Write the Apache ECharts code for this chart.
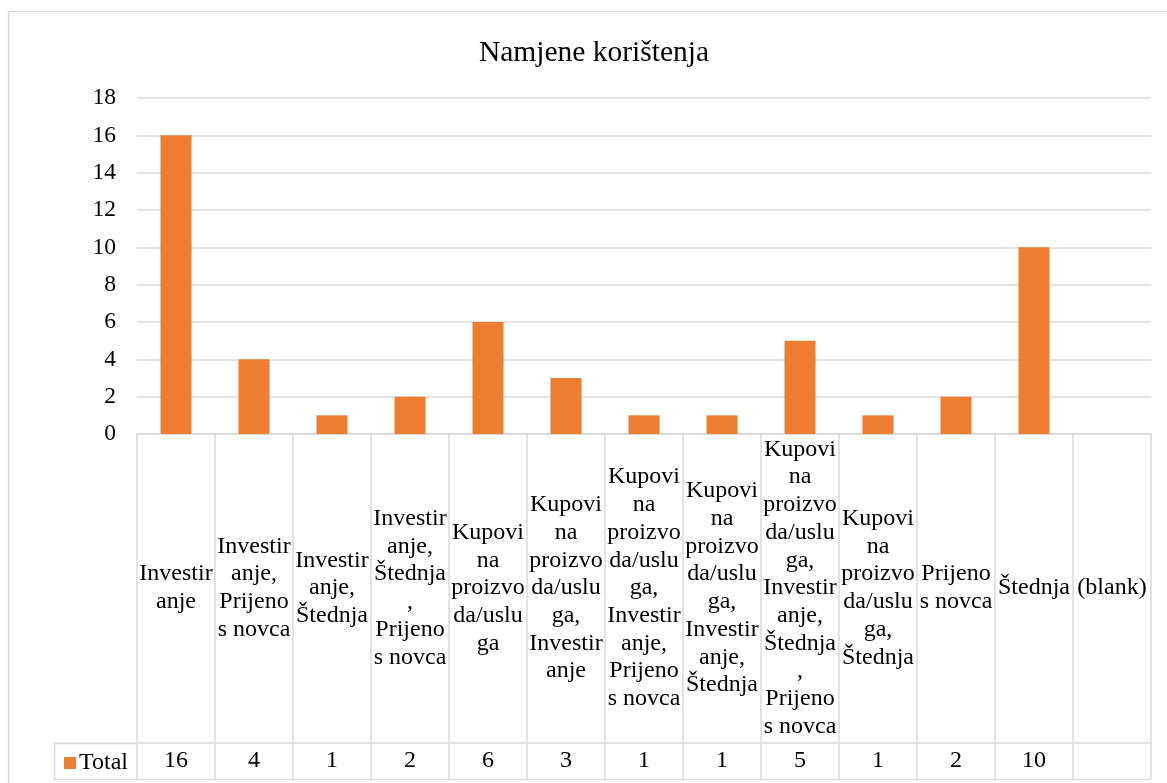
<!DOCTYPE html>
<html lang="hr">
<head>
    <meta charset="UTF-8">
    <title>Namjene korištenja</title>
    <script src="https://cdn.jsdelivr.net/npm/echarts@6/dist/echarts.min.js"></script>
    <style>
        html, body { margin: 0; padding: 0; background: #fff; }
        #chart { width: 1167px; height: 783px; }
    </style>
</head>
<body>
<div id="chart"></div>

<script>
    // podaci iz pivot tablice
    var categories = [
        'Investiranje',
        'Investiranje, Prijenos novca',
        'Investiranje, Štednja',
        'Investiranje, Štednja, Prijenos novca',
        'Kupovina proizvoda/usluga',
        'Kupovina proizvoda/usluga, Investiranje',
        'Kupovina proizvoda/usluga, Investiranje, Prijenos novca',
        'Kupovina proizvoda/usluga, Investiranje, Štednja',
        'Kupovina proizvoda/usluga, Investiranje, Štednja, Prijenos novca',
        'Kupovina proizvoda/usluga, Štednja',
        'Prijenos novca',
        'Štednja',
        '(blank)'
    ];
    // kako Excel prelama tekst u ćelijama
    var categoryLabels = [
        'Investir\nanje',
        'Investir\nanje,\nPrijeno\ns novca',
        'Investir\nanje,\nŠtednja',
        'Investir\nanje,\nŠtednja\n,\nPrijeno\ns novca',
        'Kupovi\nna\nproizvo\nda/uslu\nga',
        'Kupovi\nna\nproizvo\nda/uslu\nga,\nInvestir\nanje',
        'Kupovi\nna\nproizvo\nda/uslu\nga,\nInvestir\nanje,\nPrijeno\ns novca',
        'Kupovi\nna\nproizvo\nda/uslu\nga,\nInvestir\nanje,\nŠtednja',
        'Kupovi\nna\nproizvo\nda/uslu\nga,\nInvestir\nanje,\nŠtednja\n,\nPrijeno\ns novca',
        'Kupovi\nna\nproizvo\nda/uslu\nga,\nŠtednja',
        'Prijeno\ns novca',
        'Štednja',
        '(blank)'
    ];
    var totals = [16, 4, 1, 2, 6, 3, 1, 1, 5, 1, 2, 10, null];
    var yTicks = {min: 0, max: 18, interval: 2};

    var font = '"Liberation Serif", "Times New Roman", serif';
    var gridColor = '#d9d9d9';

    var myChart = echarts.init(document.getElementById('chart'));
    var option = {
        backgroundColor: '#fff',
        animation: false,
        title: {
            text: 'Namjene korištenja',
            left: 589,
            top: 33,
            textAlign: 'center',
            textStyle: {fontFamily: font, fontSize: 29.5, fontWeight: 'normal', color: '#000'}
        },
        legend: {
            left: 59,
            top: 746,
            icon: 'rect',
            itemWidth: 12,
            itemHeight: 12,
            itemGap: 4,
            data: ['Total'],
            textStyle: {fontFamily: font, fontSize: 24, color: '#000', padding: [0, 0, 0, -2]}
        },
        grid: {left: 137, right: 16, top: 98, bottom: 349},
        xAxis: [
            {
                type: 'category',
                data: categories,
                axisLine: {lineStyle: {color: gridColor, width: 1.5}},
                axisTick: {show: true, interval: 0, length: 345, lineStyle: {color: gridColor, width: 1.5}},
                axisLabel: {
                    interval: 0,
                    margin: 154,
                    verticalAlign: 'middle',
                    lineHeight: 27.7,
                    fontFamily: font,
                    fontSize: 24,
                    color: '#000',
                    formatter: function (v, i) { return categoryLabels[i]; }
                }
            },
            {
                type: 'category',
                position: 'bottom',
                offset: 309,
                data: categories,
                axisLine: {show: true, lineStyle: {color: gridColor, width: 1.5}},
                axisTick: {show: false},
                axisLabel: {
                    interval: 0,
                    margin: 18,
                    verticalAlign: 'middle',
                    fontFamily: font,
                    fontSize: 24,
                    color: '#000',
                    formatter: function (v, i) { return totals[i] == null ? '' : String(totals[i]); }
                }
            }
        ],
        yAxis: {
            type: 'value',
            min: yTicks.min,
            max: yTicks.max,
            interval: yTicks.interval,
            axisLine: {show: false},
            axisTick: {show: false},
            splitLine: {lineStyle: {color: gridColor, width: 1.5}},
            axisLabel: {margin: 21, fontFamily: font, fontSize: 23.5, color: '#000'}
        },
        series: [
            {
                name: 'Total',
                type: 'bar',
                barWidth: 31,
                itemStyle: {color: '#ED7D31'},
                data: totals
            }
        ],
        graphic: [
            // okvir grafikona
            {type: 'rect', silent: true, shape: {x: 8.5, y: 11.5, width: 1200, height: 800},
                style: {fill: 'none', stroke: gridColor, lineWidth: 1.5}},
            // rub tablice podataka
            {type: 'polyline', silent: true,
                shape: {points: [[137, 743.5], [54.5, 743.5], [54.5, 779.5], [1151, 779.5]]},
                style: {fill: 'none', stroke: gridColor, lineWidth: 1.5}}
        ]
    };
    myChart.setOption(option);
</script>
</body>
</html>
